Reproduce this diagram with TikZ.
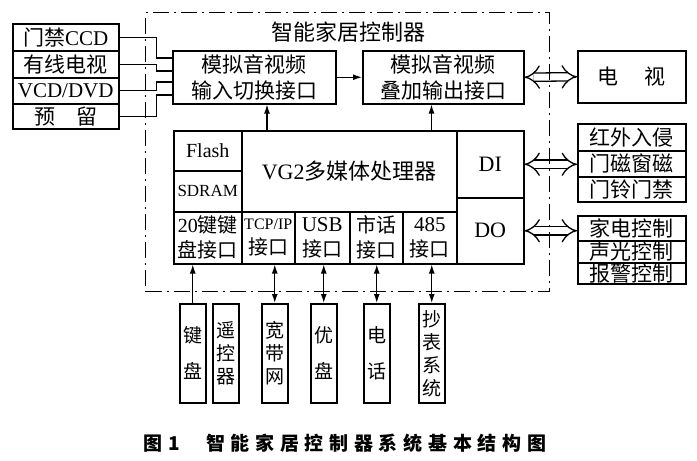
\documentclass[tikz,border=0pt]{standalone}
\usepackage{fontspec}
\setmainfont{Noto Sans CJK SC}
\newfontfamily\en{Liberation Serif}
\newfontfamily\capfont[LetterSpace=30]{Noto Sans CJK SC}
\usetikzlibrary{arrows.meta}

\begin{document}
\begin{tikzpicture}[x=1pt,y=-1pt]
\tikzstyle{box}=[draw,line width=1.5pt,inner sep=0pt,align=center,anchor=north west,font=\fontsize{21}{26}\selectfont]
\tikzstyle{cell}=[box,minimum height=52pt,font=\fontsize{20}{25}\selectfont]
\tikzstyle{col}=[box,minimum width=26pt,minimum height=99pt,font=\fontsize{19}{23}\selectfont]
\tikzstyle{wire}=[line width=1.3pt]
\tikzstyle{arr}=[line width=1.3pt,-{Latex[length=9pt,width=6pt]}]
\tikzstyle{biarr}=[line width=1.3pt,{Latex[length=9pt,width=6pt]}-{Latex[length=9pt,width=6pt]}]
\tikzstyle{hollow}=[line width=1.3pt,double,double distance=7pt,{Implies}-{Implies}]
\tikzstyle{frame}=[draw,line width=1.2pt,dash pattern=on 16pt off 5pt on 2pt off 5pt,inner sep=0pt,anchor=north west]

\useasboundingbox (0,0) rectangle (697,461);

\node[box,minimum width=106pt,minimum height=27pt] (ccd) at (12,23) {门禁{\en CCD}};
\node[box,minimum width=106pt,minimum height=27pt] (catv) at (12,50) {有线电视};
\node[box,minimum width=106pt,minimum height=26pt] (vcd) at (12,77) {\en VCD/DVD};
\node[box,minimum width=106pt,minimum height=25pt] (resv) at (12,103) {预\hspace{1em}留};

\node[box,minimum width=163pt,minimum height=53pt] (input) at (172,50) {模拟音视频\\输入切换接口};
\node[box,minimum width=161pt,minimum height=53pt] (output) at (362,50) {模拟音视频\\叠加输出接口};
\node[box,minimum width=108pt,minimum height=52pt] (tv) at (577,50) {电\hspace{26pt}视};

\node[box,minimum width=68pt,minimum height=40pt,font=\fontsize{20}{24}\selectfont] (flash) at (173,130) {\en Flash};
\node[box,minimum width=68pt,minimum height=41pt,font=\fontsize{17}{20}\selectfont] (sdram) at (173,170) {\en SDRAM};
\node[box,minimum width=215pt,minimum height=81pt,font=\fontsize{22}{26}\selectfont] (vg2) at (241,130) {{\en VG2}多媒体处理器};
\node[box,minimum width=67pt,minimum height=67pt,font=\fontsize{22}{26}\selectfont] (din) at (456,130) {\en DI};
\node[box,minimum width=67pt,minimum height=66pt,font=\fontsize{22}{26}\selectfont] (dout) at (456,197) {\en DO};

\node[cell,minimum width=68pt] (keyif) at (173,211) {{\en 20}键键\\盘接口};
\node[cell,minimum width=53pt] (tcpif) at (241,211) {{\en\fontsize{16}{25}\selectfont TCP/IP}\\接口};
\node[cell,minimum width=55pt] (usbif) at (294,211) {{\en\fontsize{21}{25}\selectfont USB}\\接口};
\node[cell,minimum width=53pt] (telif) at (349,211) {市话\\接口};
\node[cell,minimum width=54pt] (rsif) at (402,211) {{\en\fontsize{21}{25}\selectfont 485}\\接口};

\node[box,minimum width=108pt,minimum height=27pt] (irin) at (577,123) {红外入侵};
\node[box,minimum width=108pt,minimum height=26pt] (door) at (577,150) {门磁窗磁};
\node[box,minimum width=108pt,minimum height=25pt] (bell) at (577,176) {门铃门禁};

\node[box,minimum width=108pt,minimum height=25pt] (appl) at (577,215) {家电控制};
\node[box,minimum width=108pt,minimum height=22pt] (light) at (577,240) {声光控制};
\node[box,minimum width=108pt,minimum height=21pt] (alarm) at (577,262) {报警控制};

\node[col] (kbd) at (179,303) {键\\[13pt]盘};
\node[col] (rc) at (212,303) {遥\\控\\器};
\node[col] (bb) at (261,303) {宽\\带\\网};
\node[col] (ud) at (310,303) {优\\[13pt]盘};
\node[col] (ph) at (363,303) {电\\[13pt]话};
\node[col] (mr) at (418,303) {抄\\表\\系\\统};


\foreach \src/\dy in {ccd/8,catv/21,vcd/32,resv/45}
{
  \draw[wire] (\src.east) -- ++(37,0) |- ([yshift=-\dy pt]input.north west);
}

\draw[arr] (input.east) -- (output.west);
\draw[hollow] (output.east) -- (tv.west);

\coordinate (p1) at ([xshift=26pt]vg2.north west);
\coordinate (p2) at ([xshift=-26pt]vg2.north east);
\draw[arr] (p1) -- (p1 |- input.south);
\draw[arr] (p2) -- (p2 |- output.south);

\draw[hollow] (din.east) -- (din.east -| door.west);
\draw[hollow] (dout.east) -- (dout.east -| appl.west);

\draw[arr] (kbd.north) -- (kbd.north |- keyif.south);
\foreach \a/\b in {bb/tcpif,ud/usbif,ph/telif,mr/rsif}
{
  \draw[biarr] (\a.north) -- (\a.north |- \b.south);
}


\node[frame,minimum width=404pt,minimum height=279pt] (ctrl) at (145,12) {};
\node[font=\fontsize{22}{26}\selectfont] (title) at (348,32) {智能家居控制器};

\node[anchor=west,font=\capfont\bfseries\fontsize{19}{22}\selectfont] (cap) at (140,443) {图\hspace{6pt}1\hspace{26pt}智能家居控制器系统基本结构图};

\end{tikzpicture}
\end{document}
